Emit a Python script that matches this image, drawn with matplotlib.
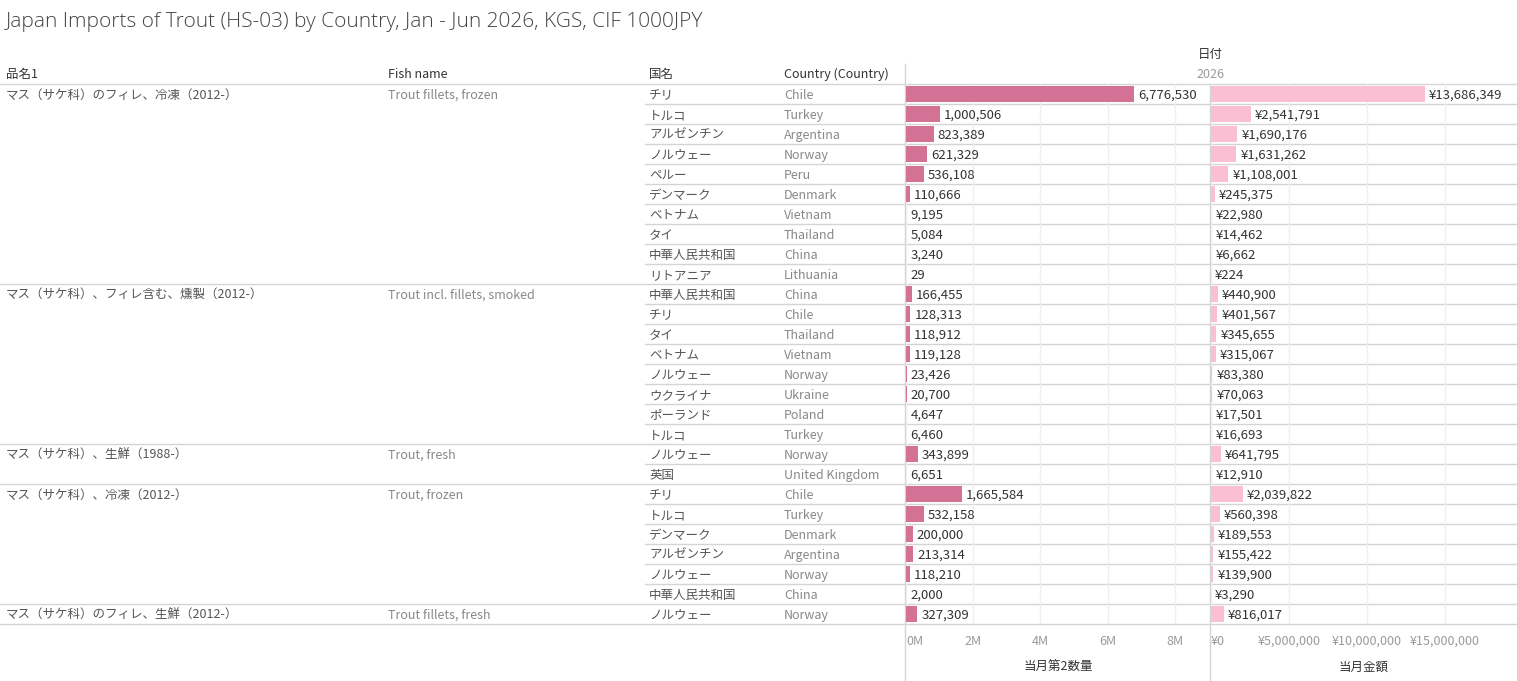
import matplotlib
matplotlib.use("Agg")
import matplotlib.pyplot as plt

plt.rcParams['font.family'] = ['Noto Sans CJK JP', 'DejaVu Sans']

# data
product_jp = ["マス（サケ科）のフィレ、冷凍（2012-）", "マス（サケ科）、フィレ含む、燻製（2012-）",
              "マス（サケ科）、生鮮（1988-）", "マス（サケ科）、冷凍（2012-）",
              "マス（サケ科）のフィレ、生鮮（2012-）"]
fish_name = ["Trout fillets, frozen", "Trout incl. fillets, smoked", "Trout, fresh",
             "Trout, frozen", "Trout fillets, fresh"]
group_size = [10, 8, 2, 6, 1]

country_jp = ["チリ", "トルコ", "アルゼンチン", "ノルウェー", "ペルー", "デンマーク", "ベトナム", "タイ",
              "中華人民共和国", "リトアニア",
              "中華人民共和国", "チリ", "タイ", "ベトナム", "ノルウェー", "ウクライナ", "ポーランド", "トルコ",
              "ノルウェー", "英国",
              "チリ", "トルコ", "デンマーク", "アルゼンチン", "ノルウェー", "中華人民共和国",
              "ノルウェー"]
country_en = ["Chile", "Turkey", "Argentina", "Norway", "Peru", "Denmark", "Vietnam", "Thailand",
              "China", "Lithuania",
              "China", "Chile", "Thailand", "Vietnam", "Norway", "Ukraine", "Poland", "Turkey",
              "Norway", "United Kingdom",
              "Chile", "Turkey", "Denmark", "Argentina", "Norway", "China",
              "Norway"]
quantity = [6776530, 1000506, 823389, 621329, 536108, 110666, 9195, 5084, 3240, 29,
            166455, 128313, 118912, 119128, 23426, 20700, 4647, 6460,
            343899, 6651,
            1665584, 532158, 200000, 213314, 118210, 2000,
            327309]
amount = [13686349, 2541791, 1690176, 1631262, 1108001, 245375, 22980, 14462, 6662, 224,
          440900, 401567, 345655, 315067, 83380, 70063, 17501, 16693,
          641795, 12910,
          2039822, 560398, 189553, 155422, 139900, 3290,
          816017]

qty_ticks = [0, 2e6, 4e6, 6e6, 8e6]
qty_ticklabels = ["0M", "2M", "4M", "6M", "8M"]
amt_ticks = [0, 5e6, 10e6, 15e6]
amt_ticklabels = ["¥0", "¥5,000,000", "¥10,000,000", "¥15,000,000"]

W, H = 1517, 681
top, row_h = 84, 20
n = len(quantity)
bottom = top + n * row_h
x_split1, x_split2 = 905.5, 1210.5
dy = 1.5  # the CJK font sits a little high when centred

line_c = "#d4d4d4"
grid_c = "#efefef"
dark = "#333333"
mid = "#555555"
light = "#888888"

fig = plt.figure(figsize=(W / 100, H / 100), dpi=100)
fig.patch.set_facecolor("white")

# overlay in pixel coordinates for the table part
ax0 = fig.add_axes([0, 0, 1, 1])
ax0.set_xlim(0, W)
ax0.set_ylim(H, 0)
ax0.axis("off")

ax0.text(6, 21 + dy, "Japan Imports of Trout (HS-03) by Country, Jan - Jun 2026, KGS, CIF 1000JPY",
         fontsize=15, color="#444444", va="center", ha="left",
         family=["Open Sans", "Noto Sans CJK JP"], weight="light")

ax0.text(6, 73 + dy, "品名1", fontsize=9, color=dark, va="center")
ax0.text(388, 73 + dy, "Fish name", fontsize=9, color=dark, va="center")
ax0.text(649, 73 + dy, "国名", fontsize=9, color=dark, va="center")
ax0.text(784, 73 + dy, "Country (Country)", fontsize=9, color=dark, va="center")
ax0.text(x_split2, 53 + dy, "日付", fontsize=9, color=dark, va="center", ha="center")
ax0.text(x_split2, 73 + dy, "2026", fontsize=9, color="#999999", va="center", ha="center")

ax0.plot([0, W], [top, top], color=line_c, lw=1)
ax0.plot([x_split1, x_split1], [64, H], color=line_c, lw=1)
ax0.plot([x_split2, x_split2], [top, H], color=line_c, lw=1)

row = 0
for g, size in enumerate(group_size):
    y0 = top + row * row_h
    ax0.text(6, y0 + row_h / 2 + dy, product_jp[g], fontsize=9, color=mid, va="center")
    ax0.text(388, y0 + row_h / 2 + dy, fish_name[g], fontsize=9, color=light, va="center")
    for k in range(size):
        i = row + k
        yc = top + i * row_h + row_h / 2 + dy
        ax0.text(649, yc, country_jp[i], fontsize=9, color=mid, va="center")
        ax0.text(784, yc, country_en[i], fontsize=9, color=light, va="center")
        yb = top + (i + 1) * row_h
        if k < size - 1:
            ax0.plot([645, W], [yb, yb], color=line_c, lw=1)
        else:
            ax0.plot([0, W], [yb, yb], color=line_c, lw=1)
    row += size

# bar panels
fb = (H - bottom) / H
fh = (bottom - top) / H
ax1 = fig.add_axes([906 / W, fb, (1210 - 906) / W, fh])
ax2 = fig.add_axes([1211 / W, fb, (W - 1211) / W, fh])

rows = list(range(n))
panels = [
    (ax1, quantity, "#D37295", 9.05e6, qty_ticks, qty_ticklabels, "当月第2数量", "{:,}"),
    (ax2, amount, "#FABFD2", 19.6e6, amt_ticks, amt_ticklabels, "当月金額", "¥{:,}"),
]
for ax, vals, col, xmax, ticks, tlabels, title, fmt in panels:
    ax.patch.set_visible(False)
    ax.barh([r + 0.5 for r in rows], vals, height=0.78, color=col, zorder=3)
    ax.set_xlim(0, xmax)
    ax.set_ylim(n, 0)
    for s in ax.spines.values():
        s.set_visible(False)
    ax.set_yticks([])
    ax.set_xticks(ticks)
    labs = ax.set_xticklabels(tlabels, fontsize=9, color="#999999")
    labs[0].set_ha("left")
    ax.tick_params(axis="x", length=0, pad=8)
    ax.grid(axis="x", color=grid_c, lw=1, zorder=0)
    ax.set_axisbelow(True)
    for r, v in zip(rows, vals):
        ax.annotate(fmt.format(v), (v, r + 0.5 + 0.07), xytext=(3, 0), textcoords="offset points",
                    ha="left", va="center", fontsize=9.5, color=dark, zorder=4)
    ax.set_xlabel(title, fontsize=9, color=dark, labelpad=9)

fig.savefig("out.png", dpi=100)
